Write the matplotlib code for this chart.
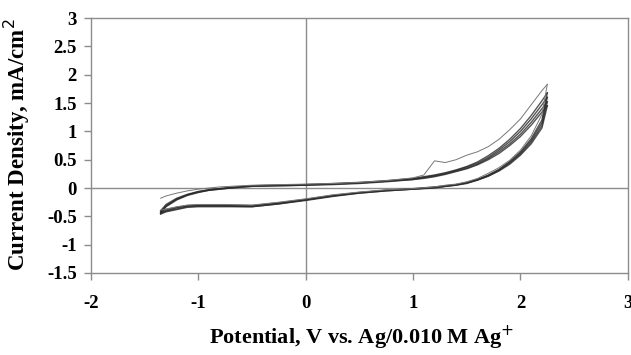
import matplotlib
matplotlib.use("Agg")
from matplotlib import pyplot as plt

plt.rcParams["font.family"] = ["Liberation Serif", "DejaVu Serif"]

# potential grids (V) for the anodic (forward) and cathodic (reverse) sweeps
fwd_v = [-1.35, -1.3, -1.2, -1.1, -1.0, -0.9, -0.8, -0.7, -0.5, -0.25, 0.0, 0.25, 0.5, 0.75,
         1.0, 1.1, 1.2, 1.3, 1.4, 1.5, 1.6, 1.7, 1.8, 1.9, 2.0, 2.1, 2.2, 2.25]
rev_v = [2.25, 2.2, 2.1, 2.0, 1.9, 1.8, 1.7, 1.6, 1.5, 1.4, 1.3, 1.2, 1.0, 0.75, 0.5, 0.25,
         0.0, -0.25, -0.5, -0.75, -1.0, -1.1, -1.2, -1.3, -1.35]

# current density (mA/cm2), cycle 1 (thin line)
c1_fwd = [-0.18, -0.14, -0.09, -0.05, -0.02, 0.0, 0.02, 0.03, 0.05, 0.06, 0.07, 0.08, 0.10, 0.13,
          0.18, 0.23, 0.48, 0.45, 0.50, 0.58, 0.64, 0.73, 0.86, 1.03, 1.22, 1.47, 1.72, 1.83]
c1_rev = [1.83, 1.30, 0.92, 0.67, 0.49, 0.36, 0.26, 0.17, 0.11, 0.07, 0.05, 0.02, -0.01, -0.03,
          -0.07, -0.12, -0.19, -0.25, -0.30, -0.29, -0.29, -0.30, -0.33, -0.37, -0.39]

# cycles 2-5
c2_fwd = [-0.40, -0.29, -0.18, -0.11, -0.06, -0.03, -0.01, 0.01, 0.04, 0.05, 0.06, 0.08, 0.10, 0.13,
          0.17, 0.20, 0.23, 0.27, 0.32, 0.38, 0.46, 0.57, 0.70, 0.86, 1.05, 1.28, 1.54, 1.68]
c2_rev = [1.68, 1.20, 0.87, 0.64, 0.47, 0.33, 0.23, 0.15, 0.10, 0.06, 0.04, 0.02, -0.01, -0.04,
          -0.08, -0.13, -0.20, -0.26, -0.31, -0.30, -0.30, -0.31, -0.34, -0.38, -0.41]
c3_fwd = [-0.42, -0.31, -0.19, -0.12, -0.07, -0.03, -0.01, 0.01, 0.04, 0.05, 0.06, 0.07, 0.09, 0.12,
          0.16, 0.19, 0.22, 0.26, 0.31, 0.37, 0.44, 0.54, 0.67, 0.82, 1.00, 1.22, 1.47, 1.60]
c3_rev = [1.60, 1.15, 0.84, 0.62, 0.45, 0.32, 0.22, 0.15, 0.09, 0.06, 0.03, 0.01, -0.02, -0.04,
          -0.08, -0.14, -0.21, -0.27, -0.32, -0.31, -0.31, -0.32, -0.35, -0.40, -0.43]
c4_fwd = [-0.44, -0.32, -0.20, -0.12, -0.07, -0.04, -0.02, 0.0, 0.03, 0.04, 0.05, 0.07, 0.09, 0.12,
          0.15, 0.18, 0.21, 0.25, 0.30, 0.35, 0.42, 0.52, 0.64, 0.78, 0.95, 1.16, 1.40, 1.52]
c4_rev = [1.52, 1.10, 0.81, 0.60, 0.44, 0.31, 0.21, 0.14, 0.09, 0.05, 0.03, 0.01, -0.02, -0.05,
          -0.09, -0.14, -0.21, -0.28, -0.33, -0.32, -0.32, -0.33, -0.37, -0.41, -0.45]
c5_fwd = [-0.45, -0.33, -0.21, -0.13, -0.08, -0.04, -0.02, 0.0, 0.03, 0.04, 0.05, 0.06, 0.08, 0.11,
          0.15, 0.17, 0.20, 0.24, 0.29, 0.34, 0.41, 0.50, 0.61, 0.75, 0.91, 1.11, 1.34, 1.45]
c5_rev = [1.45, 1.06, 0.78, 0.58, 0.42, 0.30, 0.21, 0.14, 0.08, 0.05, 0.03, 0.0, -0.02, -0.05,
          -0.09, -0.15, -0.22, -0.28, -0.33, -0.33, -0.33, -0.34, -0.38, -0.42, -0.46]

xticks = [-2, -1, 0, 1, 2, 3]
yticks = [-1.5, -1, -0.5, 0, 0.5, 1, 1.5, 2, 2.5, 3]

fig = plt.figure(figsize=(6.31, 3.55), dpi=100)
ax = fig.add_axes([0.144, 0.231, 0.851, 0.718])

grey = "#8c8c8c"
ax.axhline(0, color=grey, lw=1.0, zorder=1)
ax.axvline(0, color=grey, lw=1.0, zorder=1)

for fwd, rev in [(c2_fwd, c2_rev), (c3_fwd, c3_rev), (c4_fwd, c4_rev), (c5_fwd, c5_rev)]:
    ax.plot(fwd_v, fwd, color="#2b2b2b", lw=1.0, alpha=0.8, zorder=2)
    ax.plot(rev_v, rev, color="#2b2b2b", lw=1.0, alpha=0.8, zorder=2)
ax.plot(fwd_v, c1_fwd, color="#777777", lw=0.7, zorder=3)
ax.plot(rev_v, c1_rev, color="#777777", lw=0.7, zorder=3)

ax.set_xlim(-2, 3)
ax.set_ylim(-1.5, 3)
ax.set_xticks(xticks)
ax.set_yticks(yticks)
ax.set_xticklabels([str(t) for t in xticks])
ax.set_yticklabels(["%g" % t for t in yticks])
for s in ax.spines.values():
    s.set_color(grey)
    s.set_linewidth(1.0)
ax.tick_params(direction="out", length=5, width=1, color=grey, labelsize=13.5)
ax.tick_params(axis="x", pad=11)
ax.tick_params(axis="y", pad=5)
for lab in ax.get_xticklabels() + ax.get_yticklabels():
    lab.set_fontweight("bold")

ax.set_xlabel("Potential, V vs. Ag/0.010 M Ag$^{+}$", fontsize=16, fontweight="bold")
ax.set_ylabel("Current Density, mA/cm$^{2}$", fontsize=16.5, fontweight="bold")
ax.xaxis.set_label_coords(0.505, -0.2)
ax.yaxis.set_label_coords(-0.11, 0.505)

fig.savefig("out.png", dpi=100)
